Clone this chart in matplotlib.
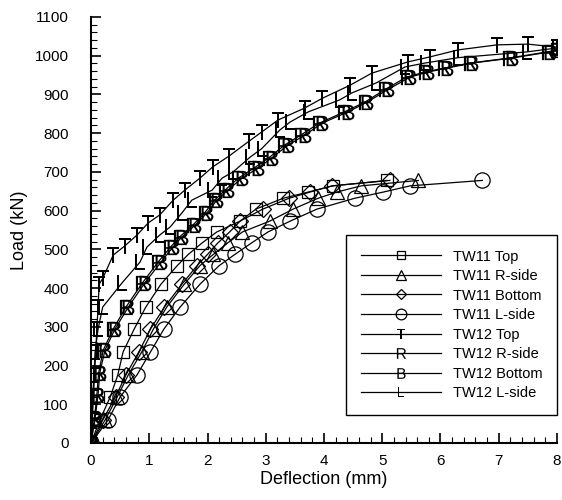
import matplotlib
matplotlib.use("Agg")
import matplotlib.pyplot as plt
from matplotlib.ticker import MultipleLocator

plt.rcParams['font.family'] = ['Liberation Sans', 'DejaVu Sans']
plt.rcParams['mathtext.fontset'] = 'custom'
plt.rcParams['mathtext.rm'] = 'Liberation Sans'

# TW11 load levels (kN), shared by the four gauges
tw11_load = [0, 59, 119, 176, 235, 294, 351, 410, 458, 487, 517, 545, 573, 604, 632, 648, 664, 678]
tw11_top = [0, 0.15, 0.33, 0.46, 0.55, 0.74, 0.94, 1.2, 1.48, 1.67, 1.91, 2.16, 2.56, 2.83, 3.3, 3.73, 4.15, 5.08]
tw11_rside = [0, 0.24, 0.45, 0.64, 0.87, 1.07, 1.3, 1.6, 1.87, 2.1, 2.35, 2.6, 3.07, 3.47, 3.9, 4.22, 4.64, 5.62]
tw11_bottom = [0, 0.2, 0.42, 0.6, 0.82, 1.02, 1.26, 1.56, 1.82, 2.0, 2.18, 2.38, 2.56, 2.95, 3.4, 3.76, 4.14, 5.13]
tw11_lside = [0, 0.29, 0.5, 0.79, 1.02, 1.25, 1.53, 1.87, 2.2, 2.47, 2.76, 3.04, 3.42, 3.88, 4.53, 5.02, 5.48, 6.72]

# TW12
tw12_top_x = [0, 0.02, 0.04, 0.06, 0.08, 0.1, 0.12, 0.14, 0.2, 0.38, 0.58, 0.79, 0.98, 1.18, 1.41, 1.61,
              1.87, 2.09, 2.37, 2.71, 2.93, 3.21, 3.67, 3.97, 4.45, 4.82, 5.44, 5.82, 6.3, 6.97, 7.5, 8.0]
tw12_top_y = [0, 59, 119, 176, 235, 294, 351, 410, 425, 485, 509, 537, 568, 589, 627, 653,
              684, 713, 741, 779, 803, 834, 865, 890, 924, 955, 984, 997, 1015, 1028, 1030, 1022]
tw12_b_x = [0, 0.07, 0.12, 0.15, 0.24, 0.41, 0.64, 0.92, 1.2, 1.4, 1.56, 1.79, 1.99, 2.16, 2.35, 2.59,
            2.87, 3.1, 3.38, 3.67, 3.97, 4.41, 4.74, 5.1, 5.48, 5.79, 6.11, 6.54, 7.23, 7.88, 8.0]
tw12_b_y = [0, 65, 124, 181, 240, 294, 351, 413, 467, 505, 532, 563, 594, 627, 653, 684,
            710, 736, 769, 795, 826, 855, 880, 913, 945, 958, 968, 981, 994, 1010, 1015]
tw12_r_x = [0, 0.06, 0.1, 0.13, 0.21, 0.38, 0.6, 0.88, 1.15, 1.36, 1.52, 1.75, 1.95, 2.12, 2.3, 2.53,
            2.8, 3.05, 3.32, 3.6, 3.92, 4.35, 4.7, 5.05, 5.42, 5.74, 6.06, 6.5, 7.18, 7.84, 8.0]
tw12_r_y = tw12_b_y
tw12_l_x = [0, 0.02, 0.03, 0.05, 0.07, 0.12, 0.2, 0.53, 0.84, 0.96, 1.18, 1.36, 1.56, 1.73, 2.08, 2.25,
            2.44, 2.73, 2.93, 3.24, 3.42, 3.73, 4.27, 4.48, 4.9, 5.39, 5.73, 6.3, 7.49, 8.0]
tw12_l_y = [0, 59, 119, 176, 235, 294, 351, 413, 467, 506, 537, 558, 594, 627, 653, 684,
            700, 738, 760, 808, 829, 855, 886, 904, 930, 971, 981, 995, 1010, 1020]

fig = plt.figure(figsize=(5.62, 5.0), dpi=100)
ax = fig.add_axes([0.162, 0.114, 0.829, 0.852])

kw = dict(color='black', lw=0.9, mfc='none', mec='black', mew=0.9)
txt = dict(color='black', lw=0.9, mfc='black', mec='black', mew=0)
ax.plot(tw11_top, tw11_load, marker='s', ms=8, label='TW11 Top', **kw)
ax.plot(tw11_rside, tw11_load, marker='^', ms=10, label='TW11 R-side', **kw)
ax.plot(tw11_bottom, tw11_load, marker='D', ms=8, label='TW11 Bottom', **kw)
ax.plot(tw11_lside, tw11_load, marker='o', ms=11, label='TW11 L-side', **kw)
ax.plot(tw12_top_x, tw12_top_y, marker=r'$\mathrm{T}$', ms=11, label='TW12 Top', **txt)
ax.plot(tw12_r_x, tw12_r_y, marker=r'$\mathrm{R}$', ms=11, label='TW12 R-side', **txt)
ax.plot(tw12_b_x, tw12_b_y, marker=r'$\mathrm{B}$', ms=11, label='TW12 Bottom', **txt)
ax.plot(tw12_l_x, tw12_l_y, marker=r'$\mathrm{L}$', ms=11, label='TW12 L-side', **txt)

ax.set_xlim(0, 8)
ax.set_ylim(0, 1100)
ax.xaxis.set_major_locator(MultipleLocator(1))
ax.xaxis.set_minor_locator(MultipleLocator(0.2))
ax.yaxis.set_major_locator(MultipleLocator(100))
ax.yaxis.set_minor_locator(MultipleLocator(20))
ax.spines['top'].set_visible(False)
ax.spines['right'].set_visible(False)
ax.spines['left'].set_linewidth(1.5)
ax.spines['bottom'].set_linewidth(1.5)
ax.tick_params(which='major', direction='in', length=7, width=1.2, labelsize=11)
ax.tick_params(axis='y', which='major', pad=16)
ax.tick_params(axis='x', which='major', pad=8)
ax.tick_params(which='minor', direction='in', length=4, width=0.8)
ax.set_xlabel('Deflection (mm)', fontsize=13, labelpad=2)
ax.set_ylabel('Load (kN)', fontsize=13, labelpad=5)

leg = ax.legend(loc='lower right', bbox_to_anchor=(1.0, 0.066), borderaxespad=0, fontsize=10.5,
                handlelength=5.5, markerscale=0.7, labelspacing=0.38, fancybox=False,
                edgecolor='black', framealpha=1, borderpad=1.0)
leg.get_frame().set_linewidth(1.0)

fig.savefig('out.png', dpi=100)
